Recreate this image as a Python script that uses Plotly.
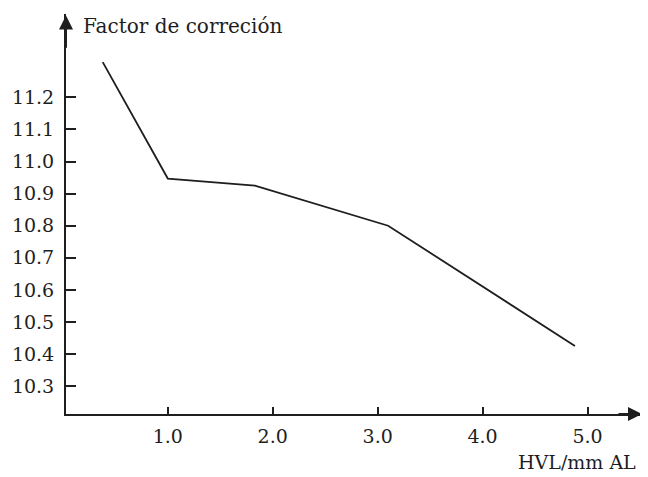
import plotly.graph_objects as go

hvl = [0.38, 1.0, 1.83, 3.1, 4.88]
factor = [11.31, 10.947, 10.925, 10.80, 10.425]

x_ticks = [1.0, 2.0, 3.0, 4.0, 5.0]
x_tick_text = ["1.0", "2.0", "3.0", "4.0", "5.0"]
y_ticks = [10.3, 10.4, 10.5, 10.6, 10.7, 10.8, 10.9, 11.0, 11.1, 11.2]
y_tick_text = ["10.3", "10.4", "10.5", "10.6", "10.7", "10.8", "10.9", "11.0", "11.1", "11.2"]

y_label = "Factor de correción"
x_label = "HVL/mm AL"

font_family = "DejaVu Serif"
ink = "#1e1e1e"

fig = go.Figure()
fig.add_trace(go.Scatter(x=hvl, y=factor, mode="lines",
                         line=dict(color=ink, width=1.8), hoverinfo="skip"))

xmin, xmax = 0.03, 5.5
ymin, ymax = 10.213, 11.46

fig.update_layout(
    width=640, height=469,
    margin=dict(l=58, r=8, t=6, b=63, autoexpand=False),
    paper_bgcolor="white", plot_bgcolor="white",
    showlegend=False,
    font=dict(family=font_family, size=19, color=ink),
    xaxis=dict(range=[xmin, xmax], tickvals=x_ticks, ticktext=x_tick_text,
               showgrid=False, zeroline=False, showline=True, linecolor=ink,
               linewidth=2, ticks="inside", ticklen=7, tickwidth=1.5,
               tickcolor=ink, ticklabelstandoff=4, automargin=False),
    yaxis=dict(range=[ymin, ymax], tickvals=y_ticks, ticktext=y_tick_text,
               showgrid=False, zeroline=False, showline=True, linecolor=ink,
               linewidth=2, ticks="inside", ticklen=10, tickwidth=1.5,
               tickcolor=ink, ticklabelstandoff=6, automargin=False),
)

# arrowheads on axes
fig.add_annotation(x=1.0, y=0, ax=-25, ay=0, xref="paper", yref="paper",
                   xshift=2, text="", showarrow=True,
                   arrowhead=2, arrowsize=1.4, arrowwidth=2, arrowcolor=ink)
fig.add_annotation(x=xmin, y=11.455, ax=xmin, ay=11.35, xref="x", yref="y",
                   axref="x", ayref="y", text="", showarrow=True,
                   arrowhead=2, arrowsize=1.4, arrowwidth=2, arrowcolor=ink)

fig.add_annotation(x=0.17, y=11.424, xref="x", yref="y", text=y_label,
                   showarrow=False, xanchor="left", yanchor="middle",
                   font=dict(family=font_family, size=20, color=ink))
fig.add_annotation(x=1.0, y=-0.1525, xref="paper", yref="paper", text=x_label,
                   xshift=-2, showarrow=False, xanchor="right", yanchor="bottom",
                   font=dict(family=font_family, size=19, color=ink))

fig.write_html("out.html")
